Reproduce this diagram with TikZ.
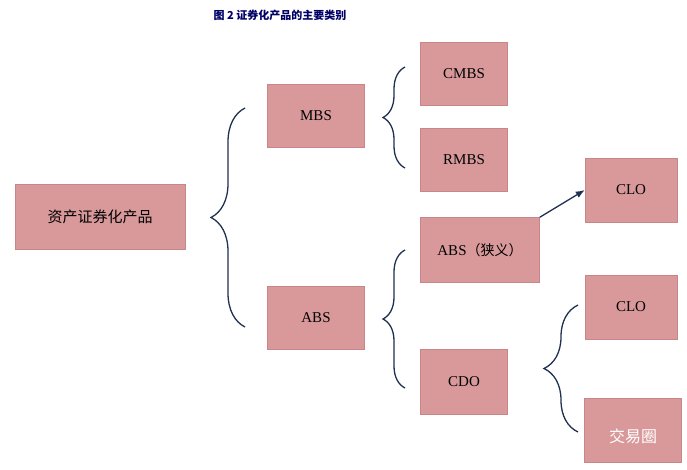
\documentclass[tikz,border=0pt]{standalone}
\usepackage{fontspec}
\setmainfont{Liberation Serif}
\newfontfamily\cjk{Noto Sans CJK SC}
\usetikzlibrary{decorations.pathreplacing,arrows.meta}
\definecolor{boxpink}{HTML}{D9999A}
\definecolor{boxedge}{HTML}{C98587}
\definecolor{navy}{HTML}{1F3050}
\begin{document}
\begin{tikzpicture}[x=1pt,y=-1pt,
    prodbox/.style={fill=boxpink, draw=boxedge, inner sep=0pt, font=\fontsize{15}{17}\selectfont},
    curl/.style={draw=navy, line width=1.3pt, decorate,
        decoration={brace, amplitude=22pt}},
    >=latex]
    \useasboundingbox (0,0) rectangle (687,469);
    \node[text=blue!40!black, font=\cjk\bfseries\fontsize{11}{13}\selectfont] (title) at (280,15) {图\ 2\ 证券化产品的主要类别};

    \node[prodbox, minimum width=170, minimum height=65] (root) at (100,217) {\cjk 资产证券化产品};
    \node[prodbox, minimum width=97, minimum height=63] (mbs) at (316,116) {MBS};
    \node[prodbox, minimum width=97, minimum height=63] (abs) at (316,318) {ABS};
    \node[prodbox, minimum width=87, minimum height=63] (cmbs) at (464,74) {CMBS};
    \node[prodbox, minimum width=87, minimum height=63] (rmbs) at (464,160) {RMBS};
    \node[prodbox, minimum width=119, minimum height=65] (absn) at (480,250) {ABS{\cjk\fontsize{14}{16}\selectfont （狭义）}};
    \node[prodbox, minimum width=87, minimum height=65] (cdo) at (464,382) {CDO};
    \node[prodbox, minimum width=92, minimum height=64] (clo1) at (631,190) {CLO};
    \node[prodbox, minimum width=92, minimum height=64] (clo2) at (631,307) {CLO};
    \node[prodbox, minimum width=97, minimum height=64] (cbo) at (633,430) {};
    \node[text=white, font=\cjk\fontsize{16}{18}\selectfont] (mark) at (633,436) {交易圈};

    % braces
    \draw[curl, decoration={amplitude=34pt}] (245,327) -- (245,108);
    \draw[curl] (405,168) -- (405,67);
    \draw[curl] (405,388) -- (405,250);
    \draw[curl, decoration={amplitude=34pt}] (578,432) -- (578,305);

    \draw[-{Latex[length=9pt,width=7pt]}, line width=1.3pt, navy] (absn.north east) -- (clo1.west);
\end{tikzpicture}
\end{document}
